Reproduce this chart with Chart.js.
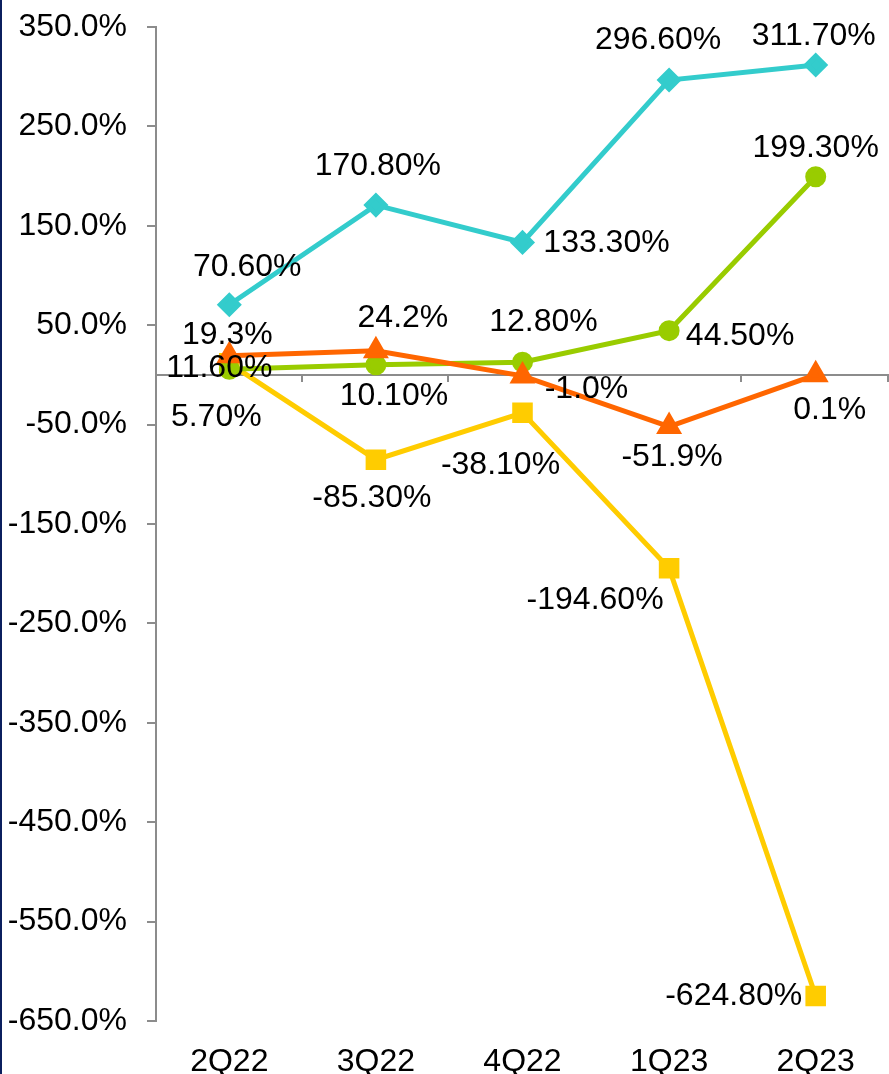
<!DOCTYPE html>
<html>
<head>
<meta charset="utf-8">
<script src="https://cdn.jsdelivr.net/npm/chart.js@4"></script>
<style>
  html, body { margin: 0; padding: 0; background: #fff; }
  #wrap { position: relative; width: 889px; height: 1074px; }
  #edge { position: absolute; left: 0; top: 0; width: 2px; height: 1074px; background: #0b1f5e; z-index: 2; }
</style>
</head>
<body>
<div id="wrap">
  <div id="edge"></div>
  <canvas id="chart1" width="889" height="1074"></canvas>
</div>
<script>
  const quarters = ['2Q22', '3Q22', '4Q22', '1Q23', '2Q23'];
  const cyanValues = [70.6, 170.8, 133.3, 296.6, 311.7];
  const orangeValues = [19.3, 24.2, -1.0, -51.9, 0.1];
  const greenValues = [5.7, 10.1, 12.8, 44.5, 199.3];
  const yellowValues = [11.6, -85.3, -38.1, -194.6, -624.8];
  const yTicks = [350, 250, 150, 50, -50, -150, -250, -350, -450, -550, -650];

  const FONT = '"Liberation Sans", Arial, sans-serif';

  // label offsets (px) from each point, per series
  const cyanLabelPos = [[18, -38], [2, -39], [84, 1], [-11, -40], [-2, -29]];
  const orangeLabelPos = [[-2, -21], [27, -33], [64, 13], [3, 31], [14, 35]];
  const greenLabelPos = [[-13, 48], [18, 31], [21, -40], [71, 6], [0, -29]];
  const yellowLabelPos = [[-10, 5], [-4, 38], [-22, 52], [-74, 32], [-82, 0]];

  const pointLabels = {
    id: 'pointLabels',
    afterDatasetsDraw(chart) {
      const ctx = chart.ctx;
      ctx.save();
      ctx.font = '32px ' + FONT;
      ctx.fillStyle = '#000';
      ctx.textAlign = 'center';
      ctx.textBaseline = 'middle';
      chart.data.datasets.forEach((ds, i) => {
        const meta = chart.getDatasetMeta(i);
        meta.data.forEach((pt, j) => {
          const off = ds.labelPos[j];
          const txt = ds.data[j].toFixed(ds.decimals) + '%';
          ctx.fillText(txt, pt.x + off[0], pt.y + off[1]);
        });
      });
      ctx.restore();
    }
  };

  const zeroAxis = {
    id: 'zeroAxis',
    beforeDatasetsDraw(chart) {
      const ctx = chart.ctx;
      const x = chart.scales.x, y = chart.scales.y;
      const y0 = Math.round(y.getPixelForValue(0));
      ctx.save();
      ctx.strokeStyle = '#8c8c8c';
      ctx.lineWidth = 2;
      ctx.beginPath();
      ctx.moveTo(x.left, y0);
      ctx.lineTo(x.right, y0);
      const n = quarters.length;
      for (let i = 1; i <= n; i++) {
        const px = Math.round(x.left + i * x.width / n) - 1;
        ctx.moveTo(px, y0);
        ctx.lineTo(px, y0 + 7);
      }
      ctx.stroke();
      ctx.restore();
    }
  };

  const ctx1 = document.getElementById('chart1').getContext('2d');
  const chart1 = new Chart(ctx1, {
    type: 'line',
    data: {
      labels: quarters,
      datasets: [{
        data: cyanValues,
        borderColor: '#33cccc',
        backgroundColor: '#33cccc',
        borderWidth: 5,
        pointStyle: 'rectRot',
        pointRadius: 9,
        tension: 0,
        decimals: 2,
        labelPos: cyanLabelPos
      }, {
        data: orangeValues,
        borderColor: '#ff6600',
        backgroundColor: '#ff6600',
        borderWidth: 5,
        pointStyle: 'triangle',
        pointRadius: 10,
        tension: 0,
        decimals: 1,
        labelPos: orangeLabelPos
      }, {
        data: greenValues,
        borderColor: '#99cc00',
        backgroundColor: '#99cc00',
        borderWidth: 5,
        pointStyle: 'circle',
        pointRadius: 8,
        tension: 0,
        decimals: 2,
        labelPos: greenLabelPos
      }, {
        data: yellowValues,
        borderColor: '#ffcc00',
        backgroundColor: '#ffcc00',
        borderWidth: 5,
        pointStyle: 'rect',
        pointRadius: 11,
        tension: 0,
        decimals: 2,
        labelPos: yellowLabelPos
      }]
    },
    options: {
      responsive: false,
      animation: false,
      layout: { autoPadding: false, padding: { top: 27, right: 0, bottom: 0, left: 0 } },
      plugins: { legend: { display: false }, tooltip: { enabled: false } },
      scales: {
        x: {
          offset: true,
          afterFit: (s) => {
            s.height = 53;
            s.paddingLeft = 0; s.paddingRight = 0;
          },
          grid: { display: false },
          border: { display: false },
          ticks: { color: '#000', font: { family: FONT, size: 32 }, padding: 14, maxRotation: 0 }
        },
        y: {
          min: -650,
          max: 350,
          afterBuildTicks: (s) => { s.ticks = yTicks.map(v => ({ value: v })); },
          afterFit: (s) => {
            s.width = 156;
            s.paddingTop = 0; s.paddingBottom = 0;
          },
          grid: { drawOnChartArea: false, tickLength: 9, tickColor: '#8c8c8c', lineWidth: 2 },
          border: { color: '#8c8c8c', width: 2 },
          ticks: {
            color: '#000',
            padding: 20,
            font: { family: FONT, size: 32 },
            callback: (v) => v.toFixed(1) + '%'
          }
        }
      }
    },
    plugins: [zeroAxis, pointLabels]
  });
</script>
</body>
</html>
